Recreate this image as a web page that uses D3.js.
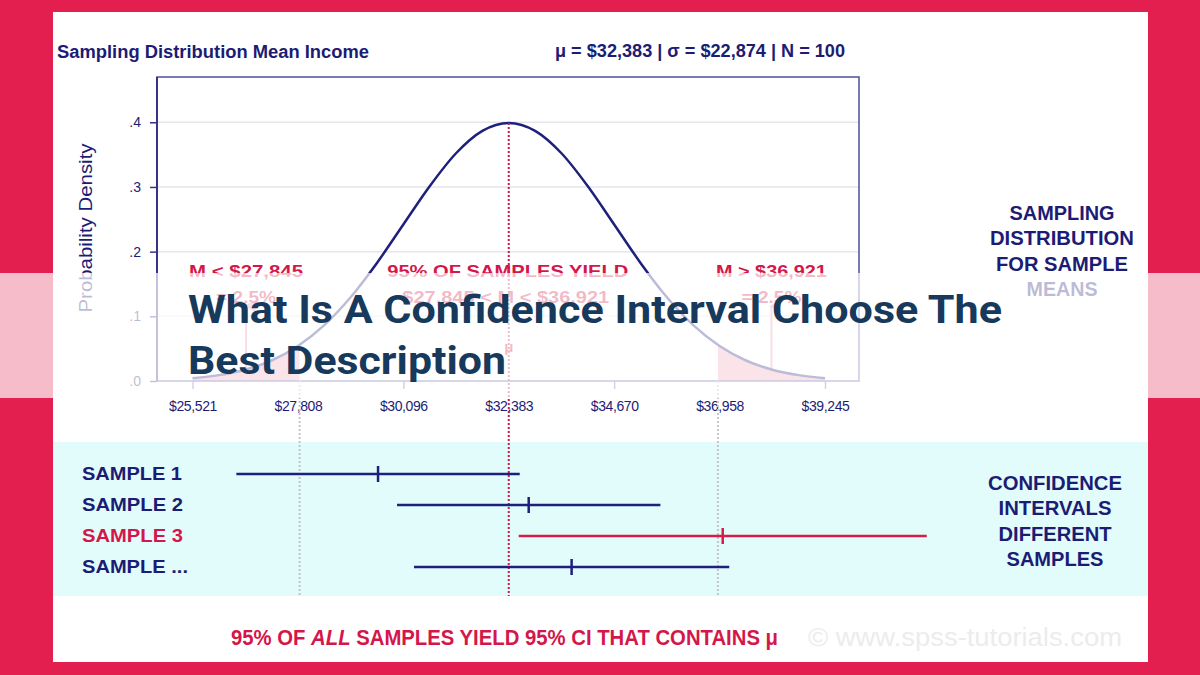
<!DOCTYPE html>
<html><head><meta charset="utf-8">
<script src="https://cdn.jsdelivr.net/npm/d3@7"></script>
<style>body{margin:0;background:#fff}svg{display:block}</style>
</head><body>
<svg id="c" width="1200" height="675"></svg>
<script>
// ---- data ----
const mu = 32383, sigma = 22874, nObs = 100;
const xTicks = [25521, 27808, 30096, 32383, 34670, 36958, 39245];
const hiddenTicks = [27808, 32383, 36958];
const yTicks = [0, 0.1, 0.2, 0.3, 0.4];
const yTickLabels = [".0", ".1", ".2", ".3", ".4"];
const curveZ = [-3, -2.75, -2.5, -2.25, -2, -1.75, -1.5, -1.25, -1, -0.75, -0.5, -0.25, 0,
                0.25, 0.5, 0.75, 1, 1.25, 1.5, 1.75, 2, 2.25, 2.5, 2.75, 3];
const curveDensity = [0.0044, 0.0091, 0.0175, 0.0317, 0.054, 0.0863, 0.1295, 0.1826, 0.242, 0.3011, 0.3521, 0.3867, 0.3989,
                      0.3867, 0.3521, 0.3011, 0.242, 0.1826, 0.1295, 0.0863, 0.054, 0.0317, 0.0175, 0.0091, 0.0044];
const lowCut = 27845, highCut = 36921;
const sampleNames = ["SAMPLE 1", "SAMPLE 2", "SAMPLE 3", "SAMPLE ..."];
const sampleLow = [26473, 29959, 32599, 30327];
const sampleMean = [29547, 32816, 37026, 33747];
const sampleHigh = [32621, 35673, 41453, 37167];
const sampleHit = [true, true, false, true];

// ---- colours ----
const RED = "#e21f4f", NAVY = "#1c1c74", LRED = "#d4174a", PINK = "#f2a6b6";

const svg = d3.select("#c");
const se = sigma / Math.sqrt(nObs);

svg.append("rect").attr("width", 1200).attr("height", 675).attr("fill", RED);
svg.append("rect").attr("x", 53).attr("y", 12).attr("width", 1095).attr("height", 650).attr("fill", "#fff");

const x = d3.scaleLinear().domain([xTicks[0], xTicks[xTicks.length - 1]]).range([192.5, 825]);
const y = d3.scaleLinear().domain([0, 0.47]).range([381, 77]);
const plot = {l: 157, r: 859, t: 77, b: 381};

const ff = "'Liberation Sans', Arial, sans-serif";
function txt(g, s, px, py, size, opts = {}) {
  const t = g.append("text").attr("x", px).attr("y", py).text(s)
    .attr("font-family", ff).attr("font-size", size)
    .attr("font-weight", opts.weight || "bold").attr("fill", opts.fill || NAVY)
    .attr("text-anchor", opts.anchor || "start");
  if (opts.len) t.attr("textLength", opts.len).attr("lengthAdjust", "spacingAndGlyphs");
  return t;
}

// headers
txt(svg, "Sampling Distribution Mean Income", 57, 58, 18, {len: 312});
txt(svg, `μ = $${d3.format(",")(mu)} | σ = $${d3.format(",")(sigma)} | N = ${nObs}`, 845, 57, 18, {anchor: "end", len: 290});

// gridlines
svg.append("g").selectAll("line").data(yTicks.slice(1)).join("line")
  .attr("x1", plot.l).attr("x2", plot.r).attr("y1", d => y(d)).attr("y2", d => y(d))
  .attr("stroke", "#e6e6ea").attr("stroke-width", 1.5);

// curve data
const pts = curveZ.map((z, i) => ({v: mu + z * se, d: curveDensity[i]}));
const defs = svg.append("defs");
defs.append("clipPath").attr("id", "tails").selectAll("rect")
  .data([[xTicks[0], lowCut], [highCut, xTicks[xTicks.length - 1]]]).join("rect")
  .attr("x", d => x(d[0])).attr("width", d => x(d[1]) - x(d[0])).attr("y", 0).attr("height", 400);
const area = d3.area().x(d => x(d.v)).y0(y(0)).y1(d => y(d.d)).curve(d3.curveMonotoneX);
svg.append("path").datum(pts).attr("d", area).attr("fill", PINK).attr("clip-path", "url(#tails)");

// arrows
defs.append("marker").attr("id", "ah").attr("viewBox", "0 0 10 10").attr("refX", 5).attr("refY", 2)
  .attr("markerWidth", 6).attr("markerHeight", 6).attr("orient", "auto-start-reverse")
  .append("path").attr("d", "M0,10 L5,0 L10,10 Z").attr("fill", "#ef8fa4");
const leftMid = (x(xTicks[0]) + x(lowCut)) / 2, rightMid = (x(highCut) + x(xTicks[6])) / 2;
[leftMid, rightMid].forEach(cx => {
  svg.append("line").attr("x1", cx).attr("x2", cx).attr("y1", 370).attr("y2", 306)
    .attr("stroke", "#ef8fa4").attr("stroke-width", 2).attr("marker-end", "url(#ah)");
});

// curve
const line = d3.line().x(d => x(d.v)).y(d => y(d.d)).curve(d3.curveMonotoneX);
svg.append("path").datum(pts).attr("d", line).attr("fill", "none").attr("stroke", "#1f1f7c").attr("stroke-width", 2.5);

// frame
svg.append("rect").attr("x", plot.l).attr("y", plot.t).attr("width", plot.r - plot.l).attr("height", plot.b - plot.t)
  .attr("fill", "none").attr("stroke", "#4d4d9c").attr("stroke-width", 1.5);
svg.append("line").attr("x1", plot.l).attr("x2", plot.l).attr("y1", plot.t).attr("y2", plot.b)
  .attr("stroke", "#34348c").attr("stroke-width", 2);

// y axis
const yAx = svg.append("g").attr("transform", `translate(${plot.l},0)`)
  .call(d3.axisLeft(y).tickValues(yTicks).tickSize(7).tickPadding(9).tickFormat((d, i) => yTickLabels[i]));
yAx.select(".domain").remove();
yAx.selectAll("line").attr("stroke", "#34348c").attr("stroke-width", 1.5);
yAx.selectAll("text").attr("font-family", ff).attr("font-size", 14).attr("fill", NAVY);

txt(svg, "Probability Density", 0, 0, 18, {weight: "normal", anchor: "middle", len: 169})
  .attr("transform", "translate(92,228) rotate(-90)");

// x axis
const xAx = svg.append("g").attr("transform", `translate(0,${plot.b})`)
  .call(d3.axisBottom(x).tickValues(xTicks).tickSize(8).tickPadding(12).tickFormat(d => "$" + d3.format(",")(d)));
xAx.select(".domain").remove();
xAx.selectAll(".tick line").attr("stroke", "#6a6aaa").attr("stroke-width", 1.5)
  .attr("opacity", d => hiddenTicks.includes(d) ? 0 : 1);
xAx.selectAll("text").attr("font-family", ff).attr("font-size", 14).attr("fill", NAVY).attr("letter-spacing", -0.4);

// sample panel
svg.append("rect").attr("x", 53).attr("y", 442).attr("width", 1095).attr("height", 154).attr("fill", "#e2fcfc");

// dashed reference lines (95% cut-offs) and mean line
svg.append("g").selectAll("line").data([lowCut, highCut]).join("line")
  .attr("x1", d => x(d)).attr("x2", d => x(d)).attr("y1", plot.b).attr("y2", 596)
  .attr("stroke", "#c4c4c4").attr("stroke-width", 2).attr("stroke-dasharray", "2,2");
svg.append("line").attr("x1", x(mu)).attr("x2", x(mu)).attr("y1", y(curveDensity[12])).attr("y2", 596)
  .attr("stroke", "#d4174a").attr("stroke-width", 2).attr("stroke-dasharray", "2,2");

// plot labels
txt(svg, "M < $27,845", leftMid, 277, 17, {fill: LRED, anchor: "middle", len: 114});
txt(svg, "= 2.5%", leftMid, 303, 17, {fill: LRED, anchor: "middle", len: 60});
txt(svg, "95% OF SAMPLES YIELD", x(mu) - 1, 277, 17, {fill: LRED, anchor: "middle", len: 241});
txt(svg, "$27,845 < M < $36,921", x(mu) - 3, 303, 17, {fill: LRED, anchor: "middle", len: 207});
txt(svg, "M > $36,921", rightMid, 277, 17, {fill: LRED, anchor: "middle", len: 111});
txt(svg, "= 2.5%", rightMid, 303, 17, {fill: LRED, anchor: "middle", len: 60});
txt(svg, "μ", x(mu), 352, 15, {fill: LRED, anchor: "middle"});

// right text blocks
["SAMPLING", "DISTRIBUTION", "FOR SAMPLE", "MEANS"].forEach((s, i) =>
  txt(svg, s, 1062, 220 + i * 25.3, 19.5, {anchor: "middle", len: [105, 144, 132, 71][i]}));
["CONFIDENCE", "INTERVALS", "DIFFERENT", "SAMPLES"].forEach((s, i) =>
  txt(svg, s, 1055, 490 + i * 25.3, 19.5, {anchor: "middle", len: [134, 113, 113, 97][i]}));

// samples
const yS = d3.scalePoint().domain(sampleNames).range([474, 567]);
const sg = svg.append("g").selectAll("g").data(sampleNames).join("g");
sg.append("line").attr("x1", (d, i) => x(sampleLow[i])).attr("x2", (d, i) => x(sampleHigh[i]))
  .attr("y1", d => yS(d)).attr("y2", d => yS(d))
  .attr("stroke", (d, i) => sampleHit[i] ? "#1f1f7c" : "#d61d48").attr("stroke-width", 2.5);
sg.append("line").attr("x1", (d, i) => x(sampleMean[i])).attr("x2", (d, i) => x(sampleMean[i]))
  .attr("y1", d => yS(d) - 8).attr("y2", d => yS(d) + 8)
  .attr("stroke", (d, i) => sampleHit[i] ? "#1f1f7c" : "#d61d48").attr("stroke-width", 2.5);
sg.each(function (d, i) {
  txt(d3.select(this), d, 82, yS(d) + 5.5, 19, {fill: sampleHit[i] ? NAVY : LRED, len: [100, 101, 101, 106][i]});
});

// footer
const ft = svg.append("text").attr("x", 231).attr("y", 645).attr("font-family", ff).attr("font-size", 22)
  .attr("font-weight", "bold").attr("fill", LRED).attr("textLength", 547).attr("lengthAdjust", "spacingAndGlyphs");
ft.append("tspan").text("95% OF ");
ft.append("tspan").attr("font-style", "italic").text("ALL");
ft.append("tspan").text(" SAMPLES YIELD 95% CI THAT CONTAINS μ");
txt(svg, "© www.spss-tutorials.com", 808, 646, 25, {weight: "normal", fill: "#ececec", len: 314});

// overlay band + headline
svg.append("rect").attr("x", 0).attr("y", 273).attr("width", 1200).attr("height", 125).attr("fill", "#fff").attr("opacity", 0.7);
const hl = svg.append("g").attr("font-family", "Roboto, sans-serif").attr("font-weight", 700).attr("font-size", 38).attr("fill", "#17395b");
hl.append("text").attr("x", 188).attr("y", 323).attr("textLength", 814).attr("lengthAdjust", "spacingAndGlyphs")
  .text("What Is A Confidence Interval Choose The");
hl.append("text").attr("x", 188).attr("y", 374).attr("textLength", 318).attr("lengthAdjust", "spacingAndGlyphs")
  .text("Best Description");
</script>
</body></html>
